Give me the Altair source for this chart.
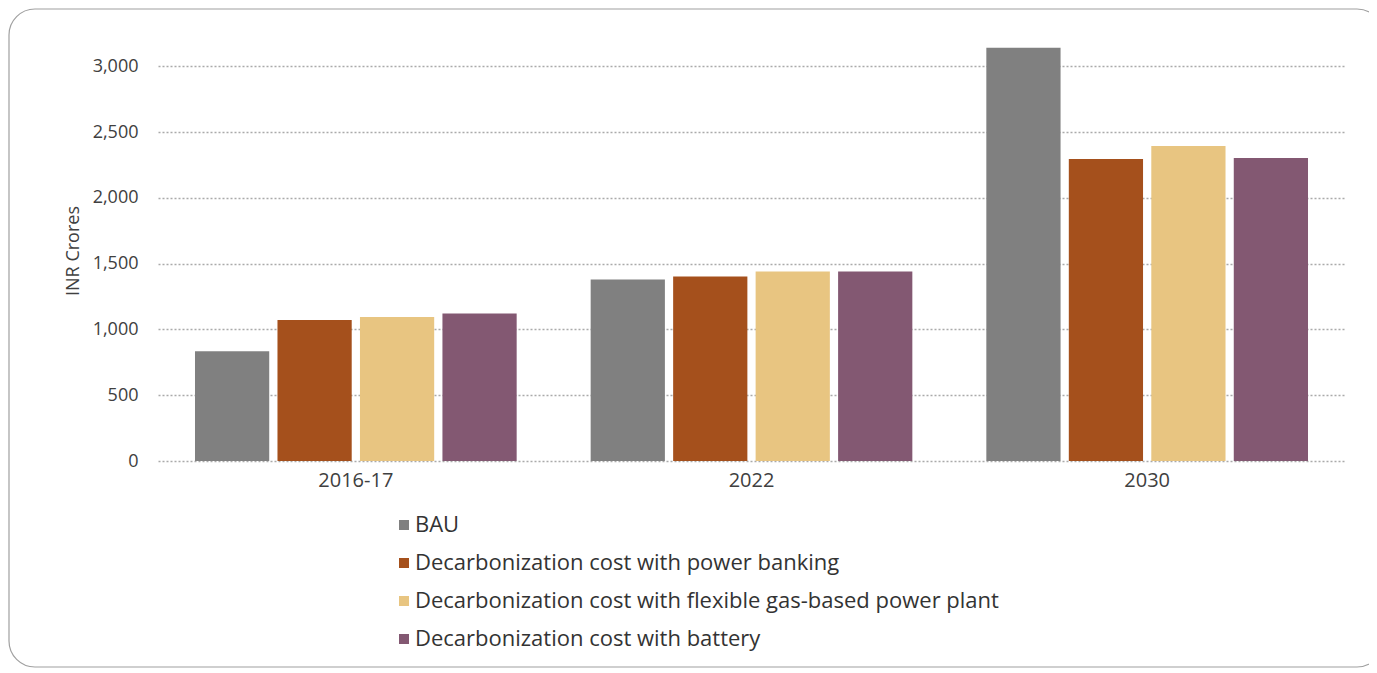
import altair as alt
import pandas as pd

years = ["2016-17", "2022", "2030"]
series = [
    "BAU",
    "Decarbonization cost with power banking",
    "Decarbonization cost with flexible gas-based power plant",
    "Decarbonization cost with battery",
]
bau = [835, 1380, 3142]
banking = [1071, 1403, 2296]
flexible = [1094, 1441, 2395]
battery = [1122, 1441, 2304]
colors = ["#808080", "#A5501C", "#E8C581", "#835872"]
y_ticks = [0, 500, 1000, 1500, 2000, 2500, 3000]

rows = []
for name, vals in zip(series, [bau, banking, flexible, battery]):
    for yr, v in zip(years, vals):
        rows.append({"Year": yr, "Series": name, "Value": v})
df = pd.DataFrame(rows)

FONT = "Open Sans"

bars = alt.Chart(df).mark_bar().encode(
    x=alt.X("Year:N", sort=years, title=None,
            scale=alt.Scale(paddingInner=0.187, paddingOuter=0.0935),
            axis=alt.Axis(labelAngle=0, ticks=False, domain=False, grid=False,
                          labelFontSize=20, labelColor="#404040", labelPadding=9,
                          labelFont=FONT)),
    xOffset=alt.XOffset("Series:N", sort=series,
                        scale=alt.Scale(paddingInner=0.1, paddingOuter=0)),
    y=alt.Y("Value:Q", title="INR Crores",
            scale=alt.Scale(domain=[0, 3200], nice=False),
            axis=alt.Axis(values=y_ticks, format=",.0f", ticks=False, domain=False,
                          grid=True, gridColor="#AAAAAA", gridDash=[2, 2], gridWidth=1.5,
                          labelFontSize=18, labelColor="#404040", labelPadding=20,
                          labelFont=FONT, titleFont=FONT, titleFontSize=18,
                          titleFontWeight="normal", titleColor="#404040", titlePadding=10)),
    color=alt.Color("Series:N", sort=series,
                    scale=alt.Scale(domain=series, range=colors),
                    legend=alt.Legend(title=None, orient="none", legendX=235, legendY=474,
                                      direction="vertical", symbolType="square",
                                      symbolSize=100, symbolStrokeWidth=0,
                                      labelFontSize=22, labelFont=FONT,
                                      labelColor="#333333", labelOffset=0,
                                      rowPadding=16, labelLimit=900)),
)

frame = alt.Chart(pd.DataFrame({"a": [0]})).mark_rect(
    fill=None, stroke="#A0A0A0", strokeWidth=1.2, cornerRadius=26
).encode(
    x=alt.value(-149), x2=alt.value(1225), y=alt.value(-31), y2=alt.value(627)
)

chart = alt.layer(frame, bars).properties(
    width=1187, height=421,
    autosize=alt.AutoSizeParams(type="none"),
    padding={"left": 150, "top": 32, "right": 24, "bottom": 210},
).configure_view(stroke=None)

chart.save("out.html", embed_options={"renderer": "svg", "actions": False})
